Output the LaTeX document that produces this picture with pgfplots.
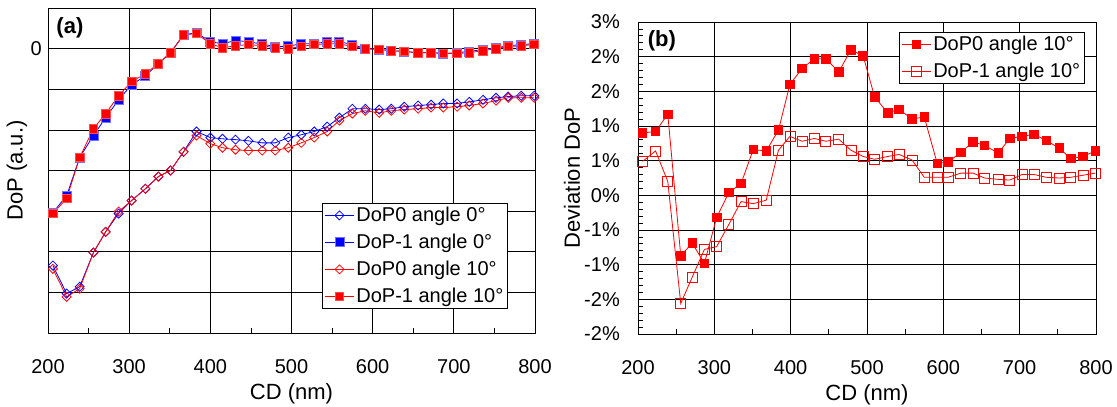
\documentclass[border=0pt]{standalone}
\usepackage{fontspec}
\setmainfont{Liberation Sans}
\usepackage{pgfplots}
\pgfplotsset{compat=1.18}
\usepackage{pgfplotstable}

\pgfplotstableread{
x d0 s0 d10 s10
206 -5.34 -4.04 -5.42 -4.06
223 -6.03 -3.62 -6.11 -3.69
239 -5.86 -2.68 -5.91 -2.68
256 -5.02 -2.14 -5.02 -1.97
271 -4.51 -1.70 -4.51 -1.60
287 -4.06 -1.26 -4.01 -1.16
303 -3.74 -0.89 -3.74 -0.81
320 -3.45 -0.67 -3.45 -0.62
336 -3.15 -0.37 -3.15 -0.37
351 -3.00 -0.10 -3.00 -0.10
367 -2.54 0.34 -2.54 0.34
383 -2.04 0.39 -2.14 0.37
400 -2.19 0.17 -2.34 0.12
415 -2.22 0.12 -2.44 0.02
431 -2.24 0.20 -2.49 0.07
447 -2.27 0.17 -2.51 0.10
464 -2.32 0.11 -2.51 0.07
480 -2.32 0.05 -2.51 0.02
496 -2.19 0.06 -2.44 0.00
512 -2.12 0.12 -2.32 0.05
528 -2.04 0.12 -2.19 0.10
544 -1.92 0.17 -2.04 0.12
559 -1.70 0.17 -1.77 0.12
575 -1.48 0.10 -1.60 0.05
591 -1.48 0.00 -1.53 0.00
608 -1.50 -0.02 -1.58 -0.02
623 -1.48 -0.05 -1.53 -0.05
639 -1.43 -0.07 -1.50 -0.07
656 -1.40 -0.10 -1.48 -0.10
672 -1.38 -0.10 -1.45 -0.10
687 -1.35 -0.12 -1.45 -0.12
704 -1.35 -0.10 -1.43 -0.12
719 -1.31 -0.07 -1.40 -0.10
736 -1.26 -0.02 -1.35 -0.05
752 -1.21 0.02 -1.28 0.00
767 -1.18 0.07 -1.21 0.05
783 -1.16 0.10 -1.21 0.07
799 -1.16 0.12 -1.21 0.10
}\dataA

\pgfplotstableread{
x f o
206 0.90 0.49
223 0.92 0.64
239 1.17 0.20
256 -0.87 -1.56
271 -0.69 -1.18
287 -0.98 -0.78
303 -0.32 -0.74
319 0.04 -0.42
335 0.17 -0.09
351 0.66 -0.12
368 0.64 -0.07
384 0.94 0.65
399 1.60 0.85
415 1.83 0.78
431 1.97 0.82
446 1.97 0.78
463 1.78 0.81
479 2.10 0.65
495 2.01 0.56
510 1.42 0.52
527 1.19 0.56
542 1.24 0.59
559 1.10 0.51
575 1.13 0.26
592 0.46 0.26
606 0.48 0.26
623 0.62 0.32
639 0.77 0.32
654 0.72 0.25
672 0.61 0.23
687 0.82 0.22
703 0.85 0.30
719 0.88 0.30
735 0.79 0.26
752 0.68 0.25
767 0.53 0.26
783 0.56 0.29
799 0.64 0.32
}\dataB

\pgfplotsset{
  mystyle/.style={
    scale only axis,
    anchor=south west,
    xmin=200, xmax=800,
    xtick={200,300,...,800},
    minor x tick num=1,
    tick align=inside,
    xtick pos=left,
    ytick pos=left,
    xmajorgrids, ymajorgrids,
    major grid style={black, line width=0.7pt},
    axis line style={black, line width=0.8pt},
    every tick/.style={black, line width=0.8pt},
    major tick length=8pt, minor tick length=5pt,
    /pgf/number format/assume math mode=true,
    tick label style={font=\fontsize{20}{24}\selectfont},
    xticklabel style={anchor=center, yshift=-34pt, inner sep=0pt},
    xlabel={CD (nm)},
    label style={font=\fontsize{22}{26}\selectfont},
    xlabel style={at={(axis description cs:0.5,0)}, anchor=center, yshift=-61pt},
    legend style={font=\fontsize{20}{24}\selectfont, draw=black, line width=0.8pt, fill=white, inner sep=2pt, row sep=7pt},
    legend cell align=left,
    legend image code/.code={\draw[mark repeat=2,mark phase=2,#1] plot coordinates {(0pt,0pt) (14.5pt,0pt) (29pt,0pt)};},
  }
}

\begin{document}
\begin{tikzpicture}[font=\fontsize{20}{24}\selectfont]
\path[use as bounding box] (0,0) rectangle (1117pt,407pt);

\begin{axis}[mystyle, at={(48pt,74pt)}, width=487pt, height=325pt,
  ymin=-7, ymax=1, ytick={-6,-5,-4,-3,-2,-1,0},
  yticklabels={{},{},{},{},{},{},0},
  ytick style={draw=none},
  yticklabel style={anchor=east, inner sep=0pt, xshift=-6pt},
  ylabel={DoP (a.u.)},
  ylabel style={at={(axis description cs:-0.064,0.5)}, anchor=center},
  legend style={at={(0.563,0.4)}, anchor=north west}]
\addplot[blue, line width=0.8pt, mark=square, mark size=3.2pt, mark options={rotate=45, fill=white, line width=0.8pt}] table[x=x, y=d0] {\dataA};
\addlegendentry{DoP0 angle 0°}
\addplot[blue, line width=0.8pt, mark=square*, mark size=4.5pt, mark options={fill=blue, draw=blue!55, line width=0.8pt}] table[x=x, y=s0] {\dataA};
\addlegendentry{DoP-1 angle 0°}
\addplot[red, line width=0.8pt, mark=square, mark size=3.2pt, mark options={rotate=45, fill=white, line width=0.8pt}] table[x=x, y=d10] {\dataA};
\addlegendentry{DoP0 angle 10°}
\addplot[red, line width=0.8pt, mark=square*, mark size=4.3pt, mark options={fill=red, draw=red!70, line width=0.8pt}] table[x=x, y=s10] {\dataA};
\addlegendentry{DoP-1 angle 10°}
\node[font=\bfseries\fontsize{22}{26}\selectfont] at (rel axis cs:0.045,0.94) {(a)};
\end{axis}

\begin{axis}[mystyle, at={(638pt,73pt)}, width=458pt, height=312pt,
  ymin=-2, ymax=2.5, ytick={-2,-1.5,-1,-0.5,0,0.5,1,1.5,2,2.5},
  yticklabels={-2\%,-2\%,-1\%,-1\%,0\%,1\%,1\%,2\%,2\%,3\%},
  minor y tick num=4,
  yticklabel style={anchor=east, inner sep=0pt, xshift=-18pt},
  ylabel={Deviation DoP},
  ylabel style={at={(axis description cs:-0.144,0.5)}, anchor=center},
  legend style={at={(0.570,0.968)}, anchor=north west}]
\addplot[red, line width=0.8pt, mark=square*, mark size=4.3pt, mark options={fill=red, line width=0.8pt}] table[x=x, y=f] {\dataB};
\addlegendentry{DoP0 angle 10°}
\addplot[red, line width=0.8pt, mark=square, mark size=5pt, mark options={fill=white, line width=0.8pt}] table[x=x, y=o] {\dataB};
\addlegendentry{DoP-1 angle 10°}
\node[font=\bfseries\fontsize{22}{26}\selectfont] at (rel axis cs:0.052,0.939) {(b)};
\end{axis}
\end{tikzpicture}
\end{document}
